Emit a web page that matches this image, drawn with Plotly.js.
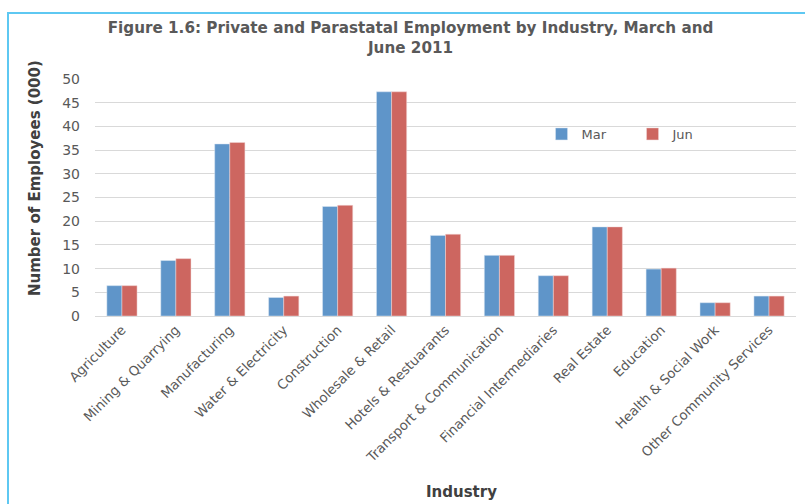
<!DOCTYPE html>
<html>
<head>
<meta charset="utf-8">
<script src="https://cdn.plot.ly/plotly-3.0.1.min.js"></script>
<style>
html,body{margin:0;padding:0;background:#fff;}
#wrap{position:relative;width:805px;height:504px;overflow:hidden;}
#frame{position:absolute;left:7px;top:12px;width:805px;height:510px;border-left:2px solid #5ec8f2;border-top:2px solid #5ec8f2;box-sizing:border-box;}
#chart{position:absolute;left:0;top:0;width:805px;height:504px;}
</style>
</head>
<body>
<div id="wrap">
<div id="frame"></div>
<div id="chart"></div>
</div>
<script>
var industries = ["Agriculture","Mining & Quarrying","Manufacturing","Water & Electricity","Construction","Wholesale & Retail","Hotels & Restuarants","Transport & Communication","Financial Intermediaries","Real Estate","Education","Health & Social Work","Other Community Services"];
var marValues = [6.4, 11.7, 36.3, 3.9, 23.1, 47.3, 17.0, 12.8, 8.5, 18.8, 9.9, 2.8, 4.2];
var junValues = [6.4, 12.1, 36.6, 4.2, 23.35, 47.3, 17.25, 12.8, 8.5, 18.8, 10.1, 2.8, 4.2];
var yTicks = [0,5,10,15,20,25,30,35,40,45,50];

var fontFam = "DejaVu Sans, sans-serif";
var grey = "#595959";

var traces = [
  {type:"bar", name:"Mar", x:industries, y:marValues, marker:{color:"#5f95c9", line:{color:"#dbe6f3", width:0.5}}},
  {type:"bar", name:"Jun", x:industries, y:junValues, marker:{color:"#cd6660", line:{color:"#f2d9d8", width:0.5}}}
];

var layout = {
  width:805, height:504,
  paper_bgcolor:"rgba(0,0,0,0)", plot_bgcolor:"rgba(0,0,0,0)",
  margin:{l:95, r:9, t:79, b:188},
  title:{text:"<b>Figure 1.6: Private and Parastatal Employment by Industry, March and<br>June 2011</b>",
         x:0.51, xanchor:"center", xref:"container", y:0.934, yanchor:"top", yref:"container",
         font:{family:fontFam, size:15.2, color:grey}},
  bargap:0.44, bargroupgap:0,
  showlegend:true,
  legend:{orientation:"h", x:0.637, y:0.768, xanchor:"left", yanchor:"middle",
          font:{family:fontFam, size:13, color:grey}, entrywidth:46, itemwidth:30,
          bgcolor:"rgba(0,0,0,0)"},
  xaxis:{automargin:false, tickangle:-45, tickfont:{family:fontFam, size:13.3, color:grey},
         showgrid:false, zeroline:false, showline:true, linecolor:"#d9d9d9", ticks:""},
  yaxis:{automargin:false, range:[0,50], tickvals:yTicks, ticktext:yTicks.map(String),
         tickfont:{family:fontFam, size:14, color:grey},
         showgrid:true, gridcolor:"#d9d9d9", gridwidth:1, zeroline:false, showline:false, ticks:"",
         ticklabelstandoff:14},
  annotations:[
    {text:"<b>Number of Employees (000)</b>", textangle:-90, showarrow:false,
     xref:"paper", yref:"paper", x:-0.0857, y:0.582, xanchor:"center", yanchor:"middle",
     font:{family:fontFam, size:15, color:"#404040"}},
    {text:"<b>Industry</b>", showarrow:false,
     xref:"paper", yref:"paper", x:0.523, y:-0.7425, xanchor:"center", yanchor:"middle",
     font:{family:fontFam, size:15, color:"#404040"}}
  ]
};

Plotly.newPlot("chart", traces, layout, {displayModeBar:false, staticPlot:true});
</script>
</body>
</html>
